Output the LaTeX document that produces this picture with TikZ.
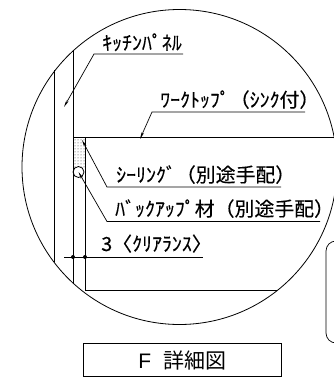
\documentclass[tikz,border=0pt]{standalone}
\usepackage{fontspec}
\setmainfont{Liberation Sans}
\newfontfamily\jp[FakeBold=0.25]{Noto Sans CJK JP}
\newfontfamily\jpt{Noto Sans CJK JP}
\usetikzlibrary{patterns,arrows.meta}
\tikzset{
  ln/.style={draw=black,line width=0.8pt},
  leader/.style={draw=black,line width=0.7pt},
  tipped/.style={{Stealth[length=7pt,width=2.5pt]}-},
  lbl/.style={inner sep=0pt,anchor=base west,xscale=1.02,font=\jp\fontsize{19.5}{19.5}\selectfont,text=black},
  dotm/.style={circle,fill=black,inner sep=0pt,minimum size=4pt},
}
\begin{document}
\begin{tikzpicture}[x=1pt,y=-1pt]
\useasboundingbox (0,0) rectangle (334,383);
\begin{scope}
\clip (0,0) rectangle (334,383);
% sealant
\fill[pattern=dots,pattern color=black!80] (74,138) rectangle (85,168);
\node[circle,draw=black,line width=0.8pt,fill=white,minimum size=11pt,inner sep=0pt] (bk) at (78.5,172) {};
\coordinate (circC) at (179.5,167);
\draw[ln] (circC) circle (157.5pt);
% frame lines
\coordinate (v1t) at (54,70); \coordinate (v1b) at (54,262);
\coordinate (v2t) at (73,50); \coordinate (v2b) at (73,283);
\coordinate (v3t) at (85,137); \coordinate (v3b) at (85,290);
\coordinate (hTr) at (334,137); \coordinate (h2r) at (277,290);
\coordinate (h0) at (73,137);
\draw[ln] (v1t)--(v1b);
\draw[ln] (v2t)--(v2b);
\draw[ln] (v3t)--(v3b)--(h2r);
\draw[ln] (h0)--(hTr);
% rounded box
\draw[draw=black,line width=0.7pt,rounded corners=10pt] (340,241)--(326,241)--(326,343)--(340,343);
\end{scope}
% leaders
\coordinate (a1) at (64,107); \coordinate (k1) at (94,54); \coordinate (k2) at (183,54);
\draw[leader,tipped] (a1)--(k1)--(k2);
\coordinate (a2) at (140,139); \coordinate (w1) at (152,112); \coordinate (w2) at (305,112);
\draw[leader,tipped] (a2)--(w1)--(w2);
\coordinate (a3) at (82,140); \coordinate (s1) at (107,187); \coordinate (s2) at (281,187);
\draw[leader,tipped] (a3)--(s1)--(s2);
\coordinate (b1) at (107,221.5); \coordinate (b2) at (320,221.5);
\draw[leader,tipped] (bk.center)--(b1)--(b2);
\coordinate (c1) at (64,257); \coordinate (c2) at (203,257);
\draw[leader] (c1)--(c2);
\node[dotm] (d1) at (73,257) {};
\node[dotm] (d2) at (85,257) {};
\node[lbl] (t1) at (102,50) {ｷｯﾁﾝﾊﾟﾈﾙ};
\node[lbl] (t2) at (160,107) {ﾜｰｸﾄｯﾌﾟ（ｼﾝｸ付）};
\node[lbl] (t3) at (116,182) {ｼｰﾘﾝｸﾞ（別途手配）};
\node[lbl] (t4) at (115,216) {ﾊﾞｯｸｱｯﾌﾟ材（別途手配）};
\node[lbl] (t5) at (101,251) {3〈ｸﾘｱﾗﾝｽ〉};
\node[draw=black,line width=0.8pt,minimum width=198pt,minimum height=33pt,inner sep=0pt,font=\jpt\fontsize{21}{21}\selectfont] (title) at (182.5,360) {{\rmfamily F}\hspace{0.6em}詳細図};
\end{tikzpicture}
\end{document}
